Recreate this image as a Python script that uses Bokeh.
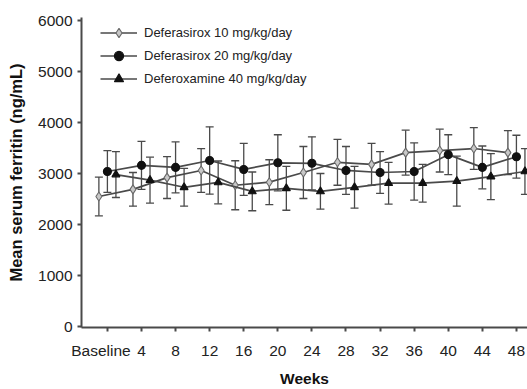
from bokeh.plotting import figure
from bokeh.models import ColumnDataSource, Whisker, TeeHead, Legend, LegendItem, FixedTicker, Range1d
from bokeh.transform import dodge
from bokeh.embed import file_html
from bokeh.resources import INLINE

weeks = [0, 4, 8, 12, 16, 20, 24, 28, 32, 36, 40, 44, 48]
tick_labels = ["Baseline\u00a0\u00a0\u00a0", "4", "8", "12", "16", "20", "24", "28", "32", "36", "40", "44", "48"]

dfx10_mean = [2550, 2690, 2920, 3060, 2770, 2830, 3020, 3220, 3180, 3410, 3450, 3490, 3410]
dfx10_err = [380, 330, 410, 430, 480, 440, 510, 450, 410, 440, 420, 410, 430]

dfx20_mean = [3040, 3160, 3120, 3255, 3080, 3210, 3200, 3060, 3020, 3040, 3370, 3120, 3330]
dfx20_err = [410, 470, 500, 660, 510, 550, 520, 470, 410, 560, 390, 420, 420]

dfo_mean = [2980, 2870, 2730, 2825, 2650, 2710, 2650, 2730, 2810, 2810, 2850, 2940, 3040]
dfo_err = [450, 450, 370, 420, 380, 430, 350, 410, 410, 370, 490, 450, 450]

labels = ["Deferasirox 10 mg/kg/day", "Deferasirox 20 mg/kg/day", "Deferoxamine 40 mg/kg/day"]

FONT = "Liberation Sans"
DARK = "#4a4a4a"

p = figure(width=527, height=389, output_backend="svg", toolbar_location=None,
           x_range=Range1d(-3.04, 49.3), y_range=Range1d(-19, 6059),
           min_border_left=81, min_border_right=0, min_border_top=17, min_border_bottom=60)
p.outline_line_color = None
p.grid.visible = False
p.background_fill_color = "white"

series = [
    (dfx10_mean, dfx10_err, -1.0, "diamond", "#c8c8c8", "#6a6a6a", 9),
    (dfx20_mean, dfx20_err, 0.0, "circle", "#111111", "#111111", 8),
    (dfo_mean, dfo_err, 1.0, "triangle", "#111111", "#111111", 8),
]

items = []
for (mean, err, off, marker, fill, line, size), lab in zip(series, labels):
    src = ColumnDataSource(dict(
        week=weeks, mean=mean,
        lower=[m - e for m, e in zip(mean, err)],
        upper=[m + e for m, e in zip(mean, err)],
    ))
    xd = dodge("week", off, range=p.x_range)
    w = Whisker(source=src, base=xd, lower="lower", upper="upper",
                line_color=DARK, line_width=1.3,
                upper_head=TeeHead(size=8, line_color=DARK, line_width=1.3),
                lower_head=TeeHead(size=8, line_color=DARK, line_width=1.3))
    p.add_layout(w)
    ln = p.line(x=xd, y="mean", source=src, line_color=DARK, line_width=1.7)
    sc = p.scatter(x=xd, y="mean", source=src, marker=marker, size=size,
                   fill_color=fill, line_color=line, line_width=1.1)
    items.append(LegendItem(label=lab, renderers=[ln, sc]))

legend = Legend(items=items, location=(19, 237), glyph_width=37, glyph_height=23,
                label_height=23, spacing=0, padding=0, margin=0, label_standoff=7,
                label_text_font=FONT, label_text_font_size="13px", label_text_color="#222222",
                border_line_color=None, background_fill_alpha=0)
p.add_layout(legend)

p.xaxis.ticker = FixedTicker(ticks=weeks)
p.xaxis.major_label_overrides = {w: t for w, t in zip(weeks, tick_labels)}
p.yaxis.ticker = FixedTicker(ticks=[0, 1000, 2000, 3000, 4000, 5000, 6000])

for ax in (p.xaxis, p.yaxis):
    ax.axis_line_color = DARK
    ax.axis_line_width = 2
    ax.major_tick_line_color = DARK
    ax.major_tick_line_width = 2
    ax.major_tick_out = 4
    ax.major_tick_in = 0
    ax.minor_tick_line_color = None
    ax.major_label_text_font = FONT
    ax.major_label_text_font_size = "15.5px"
    ax.major_label_text_color = "#222222"
    ax.axis_label_text_font = FONT
    ax.axis_label_text_font_style = "bold"
    ax.axis_label_text_color = "#111111"

p.xaxis.axis_label = "Weeks"
p.yaxis.axis_label = "Mean serum ferritin (ng/mL)"
p.xaxis.axis_label_text_font_size = "15.5px"
p.yaxis.axis_label_text_font_size = "16.5px"
p.xaxis.major_label_standoff = 10
p.xaxis.axis_label_standoff = 8
p.yaxis.major_label_standoff = 5
p.yaxis.axis_label_standoff = 10

open("out.html", "w").write(file_html(p, INLINE))
